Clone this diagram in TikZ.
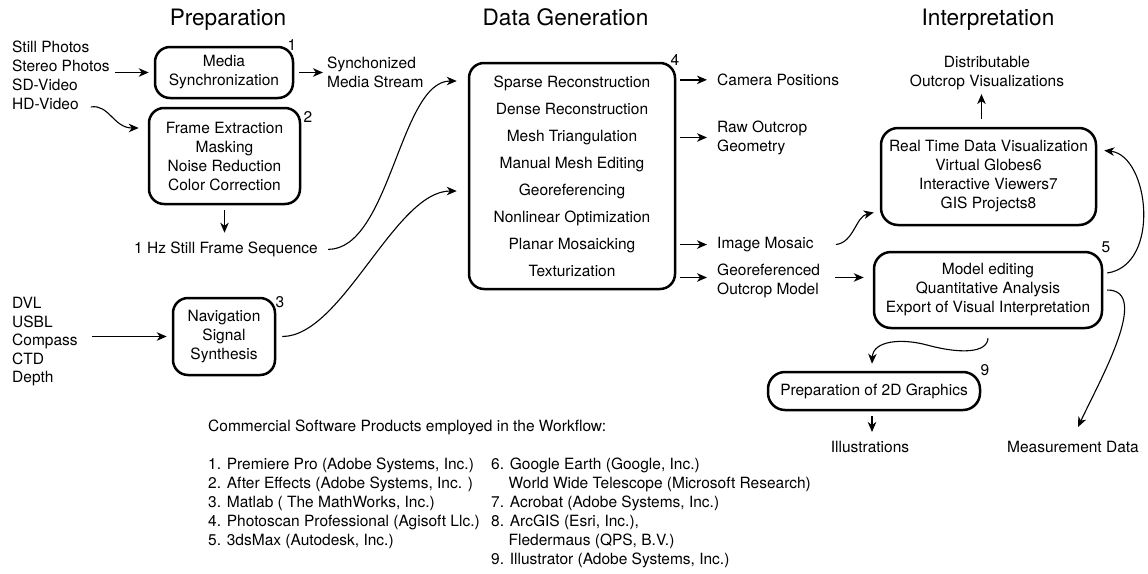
\documentclass[tikz,border=0pt]{standalone}
\usepackage{fontspec}
\setmainfont{TeX Gyre Heros}
\usetikzlibrary{arrows.meta}
\newcommand\txtsize{\fontsize{15.5}{19}\selectfont}
\newcommand\headsize{\fontsize{22.6}{27}\selectfont}
\newcommand\widesize{\fontsize{15.5}{27}\selectfont}
\begin{document}
\begin{tikzpicture}[x=1pt,y=-1pt,font=\txtsize,
  box/.style={draw,line width=2.5pt,rounded corners=15pt,align=center,inner sep=0pt},
  txt/.style={inner sep=0pt,anchor=base west},
  ctxt/.style={inner sep=0pt,align=center},
  ltxt/.style={inner sep=0pt,align=left,anchor=north west},
  head/.style={inner sep=0pt,anchor=base,font=\headsize},
  num/.style={inner sep=0pt},
  arr/.style={line width=1.4pt,-{Stealth[length=10pt,width=8.5pt,inset=3pt]}},
  carr/.style={line width=1.1pt,-{Stealth[length=10pt,width=8.5pt,inset=3pt]}}]
\useasboundingbox (0,0) rectangle (1148,573);

% column headings
\node[head] (hprep) at (228,25) {Preparation};
\node[head] (hgen) at (565.5,25) {Data Generation};
\node[head] (hint) at (988,25) {Interpretation};

% raw inputs
\node[txt] (still) at (12,52.5) {Still Photos};
\node[txt] (stereo) at (12,71.5) {Stereo Photos};
\node[txt] (sdv) at (12,90.5) {SD-Video};
\node[txt] (hdv) at (12,109.5) {HD-Video};

\node[txt] (dvl) at (12,308.5) {DVL};
\node[txt] (usbl) at (12,327.5) {USBL};
\node[txt] (compass) at (12,345.5) {Compass};
\node[txt] (ctd) at (12,364.5) {CTD};
\node[txt] (depth) at (12,382.5) {Depth};

% processing steps
\node[box,minimum width=138pt,minimum height=51pt] (sync) at (224,72.5) {Media\\Synchronization};
\node[box,minimum width=151pt,minimum height=96pt] (prep) at (224.5,156) {Frame Extraction\\Masking\\Noise Reduction\\Color Correction};
\node[box,minimum width=102pt,minimum height=77pt] (nav) at (224,336.5) {Navigation\\Signal\\Synthesis};
\node[box,minimum width=206pt,minimum height=226pt,font=\widesize] (gen) at (572,176) {Sparse Reconstruction\\Dense Reconstruction\\Mesh Triangulation\\Manual Mesh Editing\\Georeferencing\\Nonlinear Optimization\\Planar Mosaicking\\Texturization};
\node[box,minimum width=215pt,minimum height=97pt,rounded corners=17pt] (rt) at (988.5,176.5) {Real Time Data Visualization\\Virtual Globes6\\Interactive Viewers7\\GIS Projects8};
\node[box,minimum width=228pt,minimum height=76pt,rounded corners=17pt] (model) at (988,290) {Model editing\\Quantitative Analysis\\Export of Visual Interpretation};
\node[box,minimum width=212pt,minimum height=38pt,rounded corners=17pt] (graph) at (874,391) {Preparation of 2D Graphics};

% software reference numbers
\node[num] (n1) at (292,45) {1};
\node[num] (n2) at (308,117) {2};
\node[num] (n3) at (280,302) {3};
\node[num] (n4) at (675,60) {4};
\node[num] (n5) at (1106,247) {5};
\node[num] (n9) at (985,370) {9};

% intermediate and final products
\node[ltxt] (stream) at (327,56.3) {Synchonized\\Media Stream};
\node[txt,anchor=base] (seq) at (226,253.5) {1 Hz Still Frame Sequence};
\node[txt] (cam) at (717,85.5) {Camera Positions};
\node[ltxt] (raw) at (717,120.3) {Raw Outcrop\\Geometry};
\node[txt] (mosaic) at (717,248.5) {Image Mosaic};
\node[ltxt] (georef) at (717,263.3) {Georeferenced\\Outcrop Model};
\node[ctxt] (distrib) at (987,73) {Distributable\\Outcrop Visualizations};
\node[txt,anchor=base] (illus) at (870,452.5) {Illustrations};
\node[txt,anchor=base] (measure) at (1073,452.5) {Measurement Data};

% software list
\node[txt] (swhead) at (208,431.5) {Commercial Software Products employed in the Workflow:};
\foreach \t [count=\i] in {{1. Premiere Pro (Adobe Systems, Inc.)},{2. After Effects (Adobe Systems, Inc. )},{3. Matlab ( The MathWorks, Inc.)},{4. Photoscan Professional (Agisoft Llc.)},{5. 3dsMax (Autodesk, Inc.)}}
  \node[txt] (swa\i) at (208,{469.5+18.9*(\i-1)}) {\t};
\foreach \xx/\t [count=\i] in {491/{6. Google Earth (Google, Inc.)},508.5/{World Wide Telescope (Microsoft Research)},491/{7. Acrobat (Adobe Systems, Inc.)},491/{8. ArcGIS (Esri, Inc.),},508.5/{Fledermaus (QPS, B.V.)},491/{9. Illustrator (Adobe Systems, Inc.)}}
  \node[txt] (swb\i) at (\xx,{469.5+18.9*(\i-1)}) {\t};

% preparation flow
\draw[arr] ([xshift=5pt]stereo.east |- sync.west) -- ([xshift=-5pt]sync.west);
\draw[arr] ([xshift=5pt]sync.east) -- ([xshift=-4pt]sync.east -| stream.west);
\draw[carr] ([xshift=12pt,yshift=-3pt]hdv.east) .. controls +(18,-3) and +(-25,0) .. ([xshift=-9pt,yshift=28pt]prep.west);
\draw[arr] ([yshift=-5pt]prep.south) -- ([yshift=9pt]prep.south |- seq.north);
\draw[carr] ([xshift=10pt]seq.east) .. controls +(62,0) and +(-57,0) .. ([xshift=-11pt,yshift=95pt]gen.west);
\draw[arr] ([xshift=14pt]compass.east |- nav.west) -- ([xshift=-5pt]nav.west);
\draw[carr] ([xshift=6pt]nav.east) .. controls +(60,0) and +(-62,0) .. ([xshift=-11pt,yshift=-15pt]gen.west);

% data generation outputs
\foreach \o in {cam,raw,mosaic}
  \draw[arr] ([xshift=4pt]gen.east |- \o.west) -- ([xshift=-10pt]\o.west);
\draw[arr] ([xshift=4pt,yshift=3pt]gen.east |- georef.west) -- ([xshift=-10pt,yshift=3pt]georef.west);

% interpretation flow
\draw[arr] ([xshift=15pt,yshift=3pt]georef.east) -- ([xshift=-9pt,yshift=3pt]georef.east -| model.west);
\draw[carr] ([xshift=22pt]mosaic.east) .. controls +(18,-2) and +(-18,4) .. ([xshift=-6pt,yshift=-36pt]rt.west);
\draw[arr] ([xshift=-7pt,yshift=8pt]rt.north) -- ([xshift=-7pt,yshift=-4pt]rt.north |- distrib.south);
\draw[carr] ([xshift=4pt,yshift=17pt]model.east) .. controls +(54,-8) and +(45,5) .. ([xshift=7pt,yshift=26pt]rt.east);
\draw[carr] ([xshift=4pt]model.east) .. controls +(44,0) and +(22,-47) .. ([xshift=5pt,yshift=14pt]measure.north);
\draw[carr] ([yshift=-9pt]model.south) .. controls +(-1,15) and +(33,9) .. (927,345) .. controls +(-26,-7) and +(1,-23) .. ([xshift=-2pt,yshift=7pt]graph.north);
\draw[arr] ([xshift=-2pt,yshift=-5pt]graph.south) -- ([xshift=-2pt,yshift=9pt]graph.south |- illus.north);
\end{tikzpicture}
\end{document}
